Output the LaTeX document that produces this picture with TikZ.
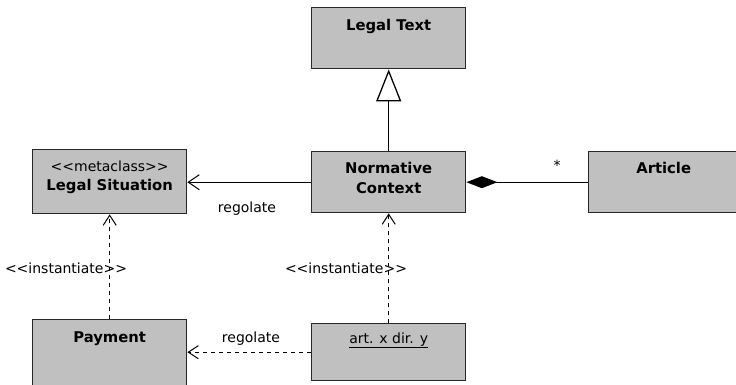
\documentclass[tikz,border=0pt]{standalone}
\usepackage{fontspec}
\setmainfont{DejaVu Sans}
\usetikzlibrary{arrows.meta}

\definecolor{clsgray}{RGB}{192,192,192}
\definecolor{clsline}{RGB}{40,40,40}

\tikzset{
  cls/.style={draw=clsline, fill=clsgray, line width=1.4pt, minimum width=154pt,
    minimum height=61pt, anchor=north west, inner sep=0pt},
  ttl/.style={anchor=base, align=center, inner sep=0pt,
    font=\bfseries\fontsize{14.8}{20}\selectfont},
  txt/.style={anchor=base, inner sep=0pt, font=\fontsize{14}{19}\selectfont},
  conn/.style={line width=1.3pt, black},
  dep/.style={conn, dash pattern=on 4pt off 4pt, -{Straight Barb[length=10pt,width=13pt,line width=1pt]}},
}

\begin{document}
\begin{tikzpicture}[x=1pt, y=-1pt]
\useasboundingbox (0,0) rectangle (736,384);

% classes
\node[cls] (lt) at (311,7) {};
\node[ttl] (ltt) at ([yshift=-23pt]lt.north) {Legal Text};

\node[cls] (nc) at (311,151) {};
\node[ttl] (nct) at ([yshift=-42pt]nc.north) {Normative\\Context};

\node[cls, minimum height=64pt] (ls) at (32,149) {};
\node[txt] (lsst) at ([yshift=-22pt]ls.north) {<{}<metaclass>{}>};
\node[ttl] (lst) at ([yshift=-41pt]ls.north) {Legal Situation};

\node[cls, minimum width=150pt] (art) at (588,151) {};
\node[ttl] (artt) at ([yshift=-22pt]art.north) {Article};

\node[cls, minimum height=66pt] (pay) at (32,319) {};
\node[ttl] (payt) at ([yshift=-23pt]pay.north) {Payment};

\node[cls, minimum height=57pt] (ax) at (311,323) {};
\node[txt] (axt) at ([yshift=-20pt]ax.north) {\underline{art. x dir. y}};

% relations
\draw[conn, -{Triangle[open, length=32pt, width=25pt, fill=white]}] (nc.north) -- (lt.south);
\draw[conn, -{Straight Barb[length=11pt,width=15pt,line width=1pt]}] (nc.west) -- (ls.east |- nc.west);
\draw[conn, {Diamond[length=31pt, width=12pt]}-] (nc.east) -- (art.west);
\draw[dep] (pay.north) -- (ls.south);
\draw[dep] (ax.north) -- (nc.south);
\draw[dep] (ax.west) -- (ax.west -| pay.east);

% labels
\node[txt] (reg1) at (247,212) {regolate};
\node[txt] (mult) at (557,170) {*};
\node[txt] (inst1) at (66,273) {<{}<instantiate>{}>};
\node[txt] (inst2) at (346,273) {<{}<instantiate>{}>};
\node[txt] (reg2) at (251,342) {regolate};

\end{tikzpicture}
\end{document}
